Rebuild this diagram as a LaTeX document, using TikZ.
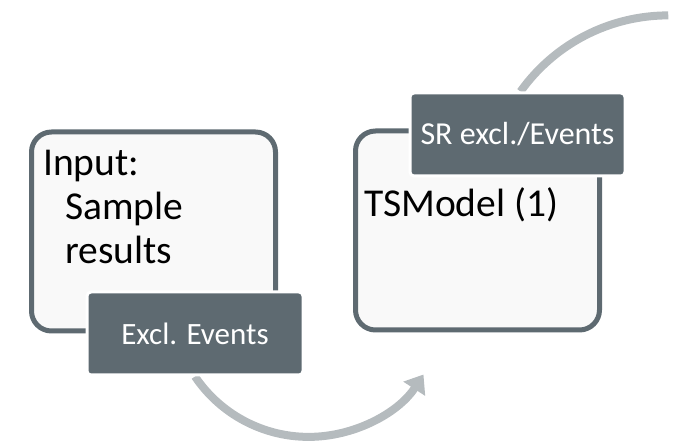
\documentclass[tikz,border=0pt]{standalone}
\usepackage{fontspec}
\setmainfont{Carlito}
\usepackage{xcolor}
\usepackage{tikz}
\usetikzlibrary{arrows.meta, positioning, backgrounds}
\definecolor{slate}{HTML}{5E6A71}
\definecolor{paper}{HTML}{F9F9F9}
\definecolor{arcgray}{HTML}{B5BBBE}
\tikzset{
  panel/.style = {rectangle, draw=slate, fill=paper, line width=5pt,
                  rounded corners=20pt, minimum width=244pt, minimum height=199pt},
  tag/.style   = {rectangle, draw=white, fill=slate, line width=3pt,
                  rounded corners=4pt, minimum width=216pt, minimum height=83pt,
                  text=white, font=\fontsize{31}{37}\selectfont},
  txt/.style   = {inner sep=0pt, align=left, font=\fontsize{39.5}{44}\selectfont},
  flow/.style  = {draw=arcgray, line width=8pt},
}

\begin{document}
\begin{tikzpicture}[x=1pt, y=1pt]
  \useasboundingbox (0,0) rectangle (681,445);
  \clip (0,0) rectangle (681,445);

  \node[panel] (input) at (153.5,213.5) {};
  \node[panel] (model) at (477.5,214.5) {};

  \node[txt, anchor=north west] (inputtxt) at (43,295)
    {Input:\\\hspace*{22pt}Sample\\\hspace*{22pt}results};
  \node[txt, anchor=base west] (modeltxt) at (364,228.3) {TSModel (1)};

  \node[tag] (excl) at (195,111.5) {Excl. Events};
  \node[tag, minimum width=215pt, font=\fontsize{32}{37}\selectfont] (sr)
    at (517.5,310.5) {SR excl./Events};

  \begin{scope}[on background layer]
    \draw[flow, -{Triangle[length=17pt, width=25pt]}]
      (excl.south) arc[start angle=214, end angle=327, radius=137];
    \draw[flow] ([xshift=3pt]sr.north) arc[start angle=144.5, end angle=90, radius=181.5];
  \end{scope}
\end{tikzpicture}
\end{document}
